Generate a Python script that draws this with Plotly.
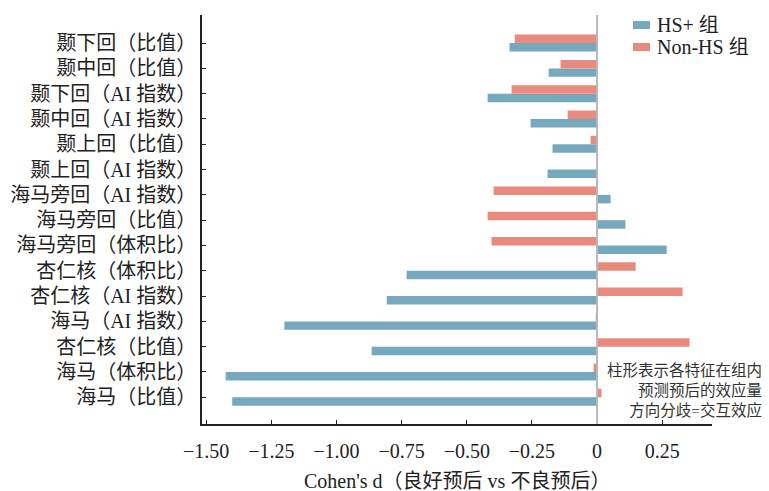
import plotly.graph_objects as go

categories = [
    "海马（比值）", "海马（体积比）", "杏仁核（比值）", "海马（AI 指数）",
    "杏仁核（AI 指数）", "杏仁核（体积比）", "海马旁回（体积比）", "海马旁回（比值）",
    "海马旁回（AI 指数）", "颞上回（AI 指数）", "颞上回（比值）", "颞中回（AI 指数）",
    "颞下回（AI 指数）", "颞中回（比值）", "颞下回（比值）",
]
hs_plus = [-1.40, -1.425, -0.865, -1.20, -0.807, -0.731, 0.267, 0.109,
           0.052, -0.19, -0.171, -0.255, -0.42, -0.186, -0.336]
non_hs = [0.017, -0.013, 0.355, -0.005, 0.328, 0.148, -0.405, -0.42,
          -0.397, 0.0, -0.025, -0.113, -0.328, -0.14, -0.316]
series_names = ["HS+ 组", "Non-HS 组"]
series_colors = ["#76a9bd", "#e88b7e"]

x_tickvals = [-1.5, -1.25, -1.0, -0.75, -0.5, -0.25, 0, 0.25]
x_ticktext = ["−1.50", "−1.25", "−1.00", "−0.75", "−0.50", "−0.25", "0", "0.25"]

FONT = "Liberation Serif, Noto Sans CJK SC, serif"
W, H = 769, 491
L, R, T, B = 202, 57, 15, 67
PW, PH = W - L - R, H - T - B

def px_to_paper_x(px):
    return (px - L) / PW

def px_to_paper_y(py):
    return (H - B - py) / PH

fig = go.Figure()
for name, vals, col in zip(series_names, [hs_plus, non_hs], series_colors):
    fig.add_trace(go.Bar(y=categories, x=vals, orientation="h", name=name,
                         marker=dict(color=col, line=dict(width=0)), showlegend=False))

fig.add_shape(type="line", xref="x", yref="paper", x0=0, x1=0, y0=0, y1=1,
              line=dict(color="#b8b8b8", width=2), layer="above")

# manual legend
for i, (name, col) in enumerate(zip(series_names, series_colors)):
    yc = 25 + 22 * i
    fig.add_shape(type="rect", xref="paper", yref="paper",
                  x0=px_to_paper_x(633), x1=px_to_paper_x(650),
                  y0=px_to_paper_y(yc + 4), y1=px_to_paper_y(yc - 4),
                  fillcolor=col, line=dict(width=0), layer="above")
    fig.add_annotation(xref="paper", yref="paper", x=px_to_paper_x(655), y=px_to_paper_y(yc),
                       xanchor="left", yanchor="middle", showarrow=False, text=name,
                       font=dict(family=FONT, size=20, color="#222222"))

fig.add_annotation(xref="paper", yref="y", x=px_to_paper_x(764), y=0.25, xanchor="right",
                   yanchor="middle", align="right", showarrow=False,
                   text="柱形表示各特征在组内<br>预测预后的效应量<br>方向分歧=交互效应",
                   font=dict(family=FONT, size=15.5, color="#333333"))

fig.add_annotation(xref="paper", yref="paper", x=0.5, y=px_to_paper_y(481), xanchor="center",
                   yanchor="middle", showarrow=False,
                   text="Cohen's d（良好预后 vs 不良预后）",
                   font=dict(family=FONT, size=20, color="#222222"))

fig.update_layout(
    width=W, height=H,
    margin=dict(l=L, r=R, t=T, b=B, autoexpand=False),
    paper_bgcolor="white", plot_bgcolor="white",
    barmode="group", bargap=0.33, bargroupgap=0,
    font=dict(family=FONT, size=20, color="#222222"),
    showlegend=False,
    xaxis=dict(range=[-1.516, 0.441], tickvals=x_tickvals, ticktext=x_ticktext,
               showgrid=False, zeroline=False, showline=True, linecolor="#222222",
               linewidth=1.5, ticks="inside", ticklen=4, tickcolor="#222222",
               tickfont=dict(family=FONT, size=20), ticklabelstandoff=8, automargin=False),
    yaxis=dict(range=[-1.056, 15.11], showgrid=False, zeroline=False, showline=True,
               linecolor="#222222", linewidth=1.5, ticks="inside", ticklen=4,
               tickcolor="#222222", tickfont=dict(family=FONT, size=20),
               ticklabelstandoff=0, automargin=False),
)

fig.write_html("out.html")
